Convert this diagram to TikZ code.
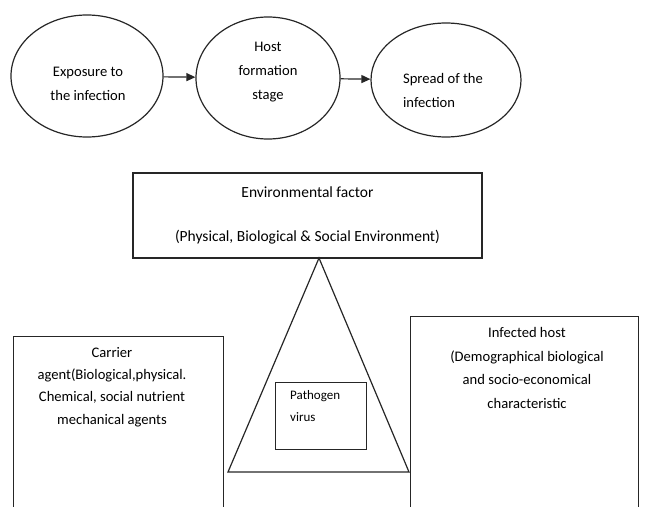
\documentclass[tikz,border=0pt]{standalone}
\usepackage{fontspec}
\setmainfont{Carlito}
\usetikzlibrary{shapes.geometric,arrows.meta}
\tikzset{
  oval/.style={ellipse, draw=black!85, line width=1.2pt, inner sep=0pt},
  box/.style={rectangle, draw=black!85, line width=1.2pt, inner sep=0pt},
  txt/.style={align=center, inner sep=0pt, font=\fontsize{14.6}{24}\selectfont},
  flow/.style={-{Triangle[length=9pt,width=8pt]}, line width=1.2pt, draw=black!85},
}
\begin{document}
\begin{tikzpicture}[x=1pt, y=-1pt]
\useasboundingbox (0,0) rectangle (647,506);
\clip (0,0) rectangle (647,506);

% stages
\node[oval, minimum width=152pt, minimum height=122pt] (exposure) at (87,76) {};
\node[oval, minimum width=144pt, minimum height=122pt] (formation) at (268,78) {};
\node[oval, minimum width=150pt, minimum height=114pt] (spread) at (446,80) {};
\node[txt] (exposure text) at (88,84) {Exposure to\\the infection};
\node[txt] (formation text) at (268,72) {Host\\formation\\stage};
\node[txt, align=left] (spread text) at (443,90) {Spread of the\\infection};

% arrows
\draw[flow] (exposure) -- (formation);
\draw[flow] (formation) -- (spread);

% environment
\node[box, minimum width=349pt, minimum height=85pt, align=center,
  font=\fontsize{15.5}{44}\selectfont] (env) at (307.5,215.5)
  {Environmental factor\\(Physical, Biological \& Social Environment)};

% triangle
\coordinate (apex) at (319,258);
\coordinate (base left) at (228,472);
\coordinate (base right) at (409,472);
\draw[line width=1.2pt, black!85] (apex) -- (base left) -- (base right) -- cycle;

% carrier and host
\node[box, anchor=north west, minimum width=210pt, minimum height=200pt] (carrier) at (13,336) {};
\node[txt, font=\fontsize{14.6}{22.3}\selectfont] (carrier text) at (112,387)
  {Carrier\\agent(Biological,physical.\\Chemical, social nutrient\\mechanical agents};
\node[box, anchor=north west, minimum width=228pt, minimum height=220pt] (host) at (410,316) {};
\node[txt, font=\fontsize{14.6}{23.5}\selectfont] (host text) at (527,368)
  {Infected host\\(Demographical biological\\and socio-economical\\characteristic};

% pathogen
\node[box, anchor=north west, minimum width=91pt, minimum height=67pt] (pathogen) at (275,382) {};
\node[txt, align=left, anchor=west, font=\fontsize{13}{22}\selectfont] (pathogen text) at (290,406)
  {Pathogen\\virus};

\end{tikzpicture}
\end{document}
